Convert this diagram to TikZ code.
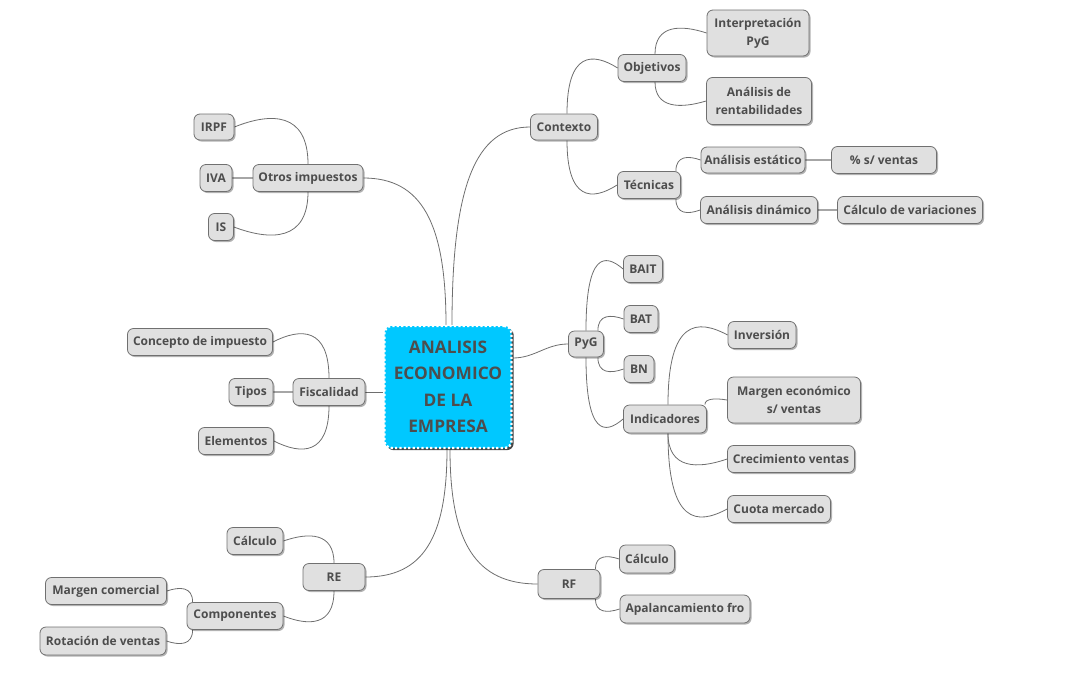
\documentclass[tikz,border=0pt]{standalone}
\usepackage{fontspec}
\setmainfont{Open Sans}
\usetikzlibrary{calc,shadows}
\definecolor{txt}{HTML}{4D4D4D}
\definecolor{nodefill}{HTML}{E0E0E0}
\definecolor{nodeline}{HTML}{707070}
\definecolor{linkc}{HTML}{6E6E6E}
\definecolor{flatc}{HTML}{A6A6A6}
\definecolor{cyanfill}{HTML}{00C8FF}
\pgfdeclarelayer{bg}
\pgfsetlayers{bg,main}
\tikzset{
 topic/.style={draw=nodeline, line width=0.8pt, fill=nodefill, rounded corners=6pt, text=txt,
   font=\bfseries\fontsize{12}{18}\selectfont, align=center, inner xsep=3pt, inner ysep=2pt,
   minimum height=27pt,
   drop shadow={shadow xshift=1.5pt, shadow yshift=-1.5pt, opacity=0.3, fill=black}},
 centraltopic/.style={fill=cyanfill, draw=white, line width=2.4pt, dash pattern=on 2.2pt off 2.2pt,
   rounded corners=7pt, minimum width=127pt, minimum height=122pt, text=txt, align=center,
   font=\bfseries\fontsize{17.3}{26.5}\selectfont,
   drop shadow={shadow xshift=2.2pt, shadow yshift=-2.2pt, opacity=0.85, fill=black!85}},
 link/.style={draw=linkc, line width=0.8pt},
 flat/.style={draw=flatc, line width=2pt},
}
\newcommand\mmlink[2]{\draw[link] let \p1=(#1), \p2=(#2),
  \n1={min(max(0.4*(\y2-\y1),-16),16)} in
  (\p1) .. controls (\x1,{\y2+\n1}) and ({0.5*(\x1+\x2)},{\y2+\n1}) .. (\p2);}
\newcommand\mmmain[2]{\draw[link] let \p1=(#1), \p2=(#2) in
  (\p1) .. controls (\x1,{\y2+0.3*(\y1-\y2)}) and ({\x1+0.3*(\x2-\x1)},\y2) .. (\p2);}
\begin{document}
\begin{tikzpicture}[x=1pt,y=-1pt]
\useasboundingbox (0,0) rectangle (1088,694);
% central
\node[centraltopic] (c) at (448,387) {ANALISIS\\ECONOMICO\\DE LA\\EMPRESA};
% Contexto branch
\node[topic, minimum width=67pt, minimum height=26pt] (ctx) at (564,127) {Contexto};
\node[topic, minimum width=68pt] (obj) at (652,68) {Objetivos};
\node[topic, minimum width=102pt, minimum height=46pt] (interp) at (758,33) {Interpretación\\PyG};
\node[topic, minimum width=105pt, minimum height=47pt] (rent) at (759,101) {Análisis de\\rentabilidades};
\node[topic, minimum width=63pt] (tec) at (649,185) {Técnicas};
\node[topic, minimum width=104pt, minimum height=26pt] (est) at (753,160) {Análisis estático};
\node[topic, minimum width=105pt] (pct) at (884,160) {\% s/ ventas};
\node[topic, minimum width=117pt] (din) at (759,210) {Análisis dinámico};
\node[topic, minimum width=145pt] (var) at (910,210) {Cálculo de variaciones};
% Otros impuestos branch
\node[topic, minimum width=110pt] (otros) at (308,178) {Otros impuestos};
\node[topic, minimum width=40pt, minimum height=26pt] (irpf) at (214,127) {IRPF};
\node[topic, minimum width=32pt] (iva) at (216,178) {IVA};
\node[topic, minimum width=25pt] (is) at (221,227) {IS};
% Fiscalidad branch
\node[topic, minimum width=72pt] (fisc) at (329,392) {Fiscalidad};
\node[topic, minimum width=145pt] (conc) at (200,342) {Concepto de impuesto};
\node[topic, minimum width=44pt] (tipos) at (251,392) {Tipos};
\node[topic, minimum width=75pt] (elem) at (236,441) {Elementos};
% RE branch
\node[topic, minimum width=62pt] (re) at (334,577) {RE};
\node[topic, minimum width=56pt] (calcL) at (255,541) {Cálculo};
\node[topic, minimum width=96pt] (comp) at (235,616) {Componentes};
\node[topic, minimum width=121pt] (mcom) at (106,591) {Margen comercial};
\node[topic, minimum width=126pt, minimum height=28pt] (rot) at (103,641) {Rotación de ventas};
% PyG branch
\node[topic, minimum width=35pt, minimum height=26pt] (pyg) at (586,344) {PyG};
\node[topic, minimum width=39pt] (bait) at (643,269) {BAIT};
\node[topic, minimum width=34pt] (bat) at (641,319) {BAT};
\node[topic, minimum width=30pt] (bn) at (639,369) {BN};
\node[topic, minimum width=83pt, minimum height=28pt] (ind) at (665,419) {Indicadores};
\node[topic, minimum width=68pt] (inv) at (762,335) {Inversión};
\node[topic, minimum width=133pt, minimum height=46pt] (mec) at (794,400) {Margen económico\\s/ ventas};
\node[topic, minimum width=127pt] (crec) at (791,459) {Crecimiento ventas};
\node[topic, minimum width=103pt] (cuota) at (779,509) {Cuota mercado};
% RF branch
\node[topic, minimum width=62pt, minimum height=29pt] (rf) at (569,584) {RF};
\node[topic, minimum width=55pt, minimum height=28pt] (calcR) at (647,559) {Cálculo};
\node[topic, minimum width=130pt, minimum height=28pt] (apal) at (685,609) {Apalancamiento fro};
\begin{pgfonlayer}{bg}
% central links
\mmmain{[xshift=4pt]c.north}{ctx.west}
\mmmain{[xshift=-2pt]c.north}{otros.east}
\mmmain{[xshift=-1pt]c.south}{re.east}
\mmmain{[xshift=2pt]c.south}{rf.west}
\draw[link] ([yshift=29pt]c.east) to[out=0,in=180] (pyg.west);
\draw[link] (fisc.east) -- (fisc.east -| c.west);
% Contexto
\mmlink{[xshift=3pt]ctx.north}{obj.west}
\mmlink{[xshift=3pt]ctx.south}{tec.west}
\mmlink{[xshift=3pt]obj.north}{interp.west}
\mmlink{[xshift=3pt]obj.south}{rent.west}
\mmlink{[xshift=-5pt]tec.north east}{est.west}
\mmlink{[xshift=-5pt]tec.south east}{din.west}
\draw[flat] (est.east) -- (pct.west);
\draw[flat] (din.east) -- (var.west);
% Otros impuestos
\mmlink{otros.north}{irpf.east}
\draw[flat] (otros.west) -- (iva.east);
\mmlink{otros.south}{is.east}
% Fiscalidad
\mmlink{fisc.north}{conc.east}
\draw[flat] (fisc.west) -- (tipos.east);
\mmlink{fisc.south}{elem.east}
% RE
\mmlink{re.north}{calcL.east}
\mmlink{re.south}{comp.east}
\mmlink{[xshift=6pt]comp.north west}{mcom.east}
\mmlink{[xshift=6pt]comp.south west}{rot.east}
% PyG
\mmlink{pyg.north}{bait.west}
\mmlink{[xshift=-6pt]pyg.north east}{bat.west}
\mmlink{[xshift=-6pt]pyg.south east}{bn.west}
\mmlink{pyg.south}{ind.west}
\mmlink{[xshift=3pt]ind.north}{inv.west}
\mmlink{[xshift=-2pt]ind.north east}{mec.west}
\mmlink{[xshift=3pt]ind.south}{crec.west}
\mmlink{[xshift=3pt]ind.south}{cuota.west}
% RF
\mmlink{[xshift=-5pt]rf.north east}{calcR.west}
\mmlink{[xshift=-5pt]rf.south east}{apal.west}
\end{pgfonlayer}
\end{tikzpicture}
\end{document}
